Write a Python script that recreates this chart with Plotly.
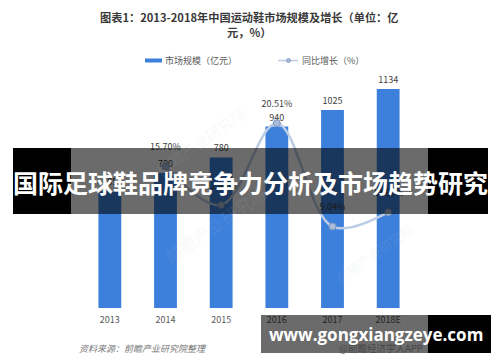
import plotly.graph_objects as go

# Market size (100 million yuan) and year-on-year growth (%)
years = ["2013", "2014", "2015", "2016", "2017", "2018E"]
market_size = [605, 700, 780, 940, 1025, 1134]
growth_years = ["2014", "2015", "2016", "2017", "2018E"]
growth_pct = [15.70, 11.43, 20.51, 9.04, 10.63]

W, H = 500, 362
BAR_BLUE = "#3d80dc"
LINE_BLUE = "#bccde6"
CJK = "Noto Sans CJK SC"


def px(x):
    return x / W


def py(y):
    return 1 - y / H


fig = go.Figure()

fig.add_trace(go.Bar(
    x=years, y=market_size, name="市场规模（亿元）",
    marker=dict(color=BAR_BLUE, line=dict(width=0)),
    width=0.41,
    text=[str(v) for v in market_size], textposition="outside",
    textfont=dict(size=9, color="#404040", family=CJK),
    cliponaxis=False,
))

fig.add_trace(go.Scatter(
    x=growth_years, y=growth_pct, name="同比增长（%）", yaxis="y2",
    mode="lines+markers",
    line=dict(color=LINE_BLUE, width=2.5, shape="spline", smoothing=1.0),
    marker=dict(size=7, color="#a7bcda", line=dict(color="#7d95ba", width=1)),
    cliponaxis=False,
))

# Growth labels use a twin axis whose range is offset slightly,
# so each label sits a few pixels higher than its marker
fig.add_trace(go.Scatter(
    x=growth_years, y=growth_pct, yaxis="y3", mode="text",
    text=[f"{v:.2f}%" for v in growth_pct], textposition="top center",
    textfont=dict(size=9, color="#404040", family=CJK),
    cliponaxis=False, hoverinfo="skip",
))

plot_left, plot_right, plot_top, plot_bottom = 82, 416, 80, 308
pct_max = 25.3
label_lift_px = 14
lift = label_lift_px * pct_max / (plot_bottom - plot_top)

fig.update_layout(
    width=W, height=H, autosize=False,
    margin=dict(l=0, r=0, t=0, b=0),
    paper_bgcolor="white", plot_bgcolor="white",
    showlegend=False,
    font=dict(family=CJK, color="#404040"),
    xaxis=dict(
        domain=[px(plot_left), px(plot_right)],
        showgrid=False, showline=False, zeroline=False, ticks="",
        tickfont=dict(size=9, color="#595959", family=CJK),
        ticklabelstandoff=5,
    ),
    yaxis=dict(
        domain=[py(plot_bottom), py(plot_top)],
        range=[0, 1181], visible=False, showgrid=False,
    ),
    yaxis2=dict(
        overlaying="y", range=[0, pct_max], visible=False, showgrid=False,
    ),
    yaxis3=dict(
        overlaying="y", range=[-lift, pct_max - lift], autorange=False,
        visible=False, showgrid=False,
    ),
)

annotations = []
shapes = []

# Title
annotations.append(dict(
    x=px(249), y=py(24), xref="paper", yref="paper",
    text="<b>图表1：2013-2018年中国运动鞋市场规模及增长（单位：亿<br>元，%）</b>",
    showarrow=False, align="center", xanchor="center", yanchor="middle",
    font=dict(size=11.2, color="#3a3a3a", family=CJK),
))

# Legend
shapes.append(dict(type="rect", xref="paper", yref="paper",
                   x0=px(145), x1=px(162), y0=py(62.5), y1=py(58.5),
                   fillcolor=BAR_BLUE, line=dict(width=0)))
annotations.append(dict(
    x=px(163), y=py(60.5), xref="paper", yref="paper", text="市场规模（亿元）",
    showarrow=False, xanchor="left", yanchor="middle",
    font=dict(size=9, color="#595959", family=CJK),
))
shapes.append(dict(type="line", xref="paper", yref="paper",
                   x0=px(278), x1=px(298), y0=py(60.5), y1=py(60.5),
                   line=dict(color=LINE_BLUE, width=1.5)))
shapes.append(dict(type="circle", xref="paper", yref="paper",
                   x0=px(286.5), x1=px(290.5), y0=py(62.5), y1=py(58.5),
                   fillcolor="#a7bcda", line=dict(color="#7d95ba", width=0.8)))
annotations.append(dict(
    x=px(300), y=py(60.5), xref="paper", yref="paper", text="同比增长（%）",
    showarrow=False, xanchor="left", yanchor="middle",
    font=dict(size=9, color="#595959", family=CJK),
))

# Faint publisher watermarks
for wx, wy, size in [(200, 100, 15), (215, 272, 17), (420, 290, 13)]:
    annotations.append(dict(
        x=px(wx), y=py(wy), xref="paper", yref="paper", text="前瞻产业研究院",
        showarrow=False, textangle=-35,
        font=dict(size=size, color="rgba(190,200,215,0.12)", family=CJK),
    ))

# Source note
annotations.append(dict(
    x=px(77), y=py(348), xref="paper", yref="paper",
    text="<i>资料来源：前瞻产业研究院整理</i>",
    showarrow=False, xanchor="left", yanchor="middle",
    font=dict(size=9, color="#7a7a7a", family=CJK),
))

# Headline banner across the chart
shapes += [
    dict(type="rect", xref="paper", yref="paper", layer="above",
         x0=px(13), x1=px(71), y0=py(214), y1=py(148),
         fillcolor="black", line=dict(width=0)),
    dict(type="rect", xref="paper", yref="paper", layer="above",
         x0=px(71), x1=px(428), y0=py(214), y1=py(148),
         fillcolor="rgba(0,0,0,0.58)", line=dict(width=0)),
    dict(type="rect", xref="paper", yref="paper", layer="above",
         x0=px(428), x1=px(488), y0=py(214), y1=py(148),
         fillcolor="black", line=dict(width=0)),
]
annotations.append(dict(
    x=px(250.5), y=py(182), xref="paper", yref="paper",
    text="<b>国际足球鞋品牌竞争力分析及市场趋势研究</b>",
    showarrow=False, xanchor="center", yanchor="middle",
    font=dict(size=25, color="white", family=CJK),
))

# Site banner at the bottom right
shapes += [
    dict(type="rect", xref="paper", yref="paper", layer="above",
         x0=px(261), x1=px(428), y0=py(353), y1=py(315),
         fillcolor="rgba(0,0,0,0.58)", line=dict(width=0)),
    dict(type="rect", xref="paper", yref="paper", layer="above",
         x0=px(428), x1=px(491), y0=py(353), y1=py(315),
         fillcolor="black", line=dict(width=0)),
]
annotations.append(dict(
    x=px(381), y=py(348), xref="paper", yref="paper",
    text="@前瞻经济学人APP",
    showarrow=False, xanchor="center", yanchor="middle",
    font=dict(size=9.5, color="#474747", family=CJK),
))
annotations.append(dict(
    x=px(376), y=py(334), xref="paper", yref="paper",
    text="<b>www.gongxiangzeye.com</b>",
    showarrow=False, xanchor="center", yanchor="middle",
    font=dict(size=17, color="white", family="Open Sans"),
))

fig.update_layout(shapes=shapes, annotations=annotations)

fig.write_html("out.html")
